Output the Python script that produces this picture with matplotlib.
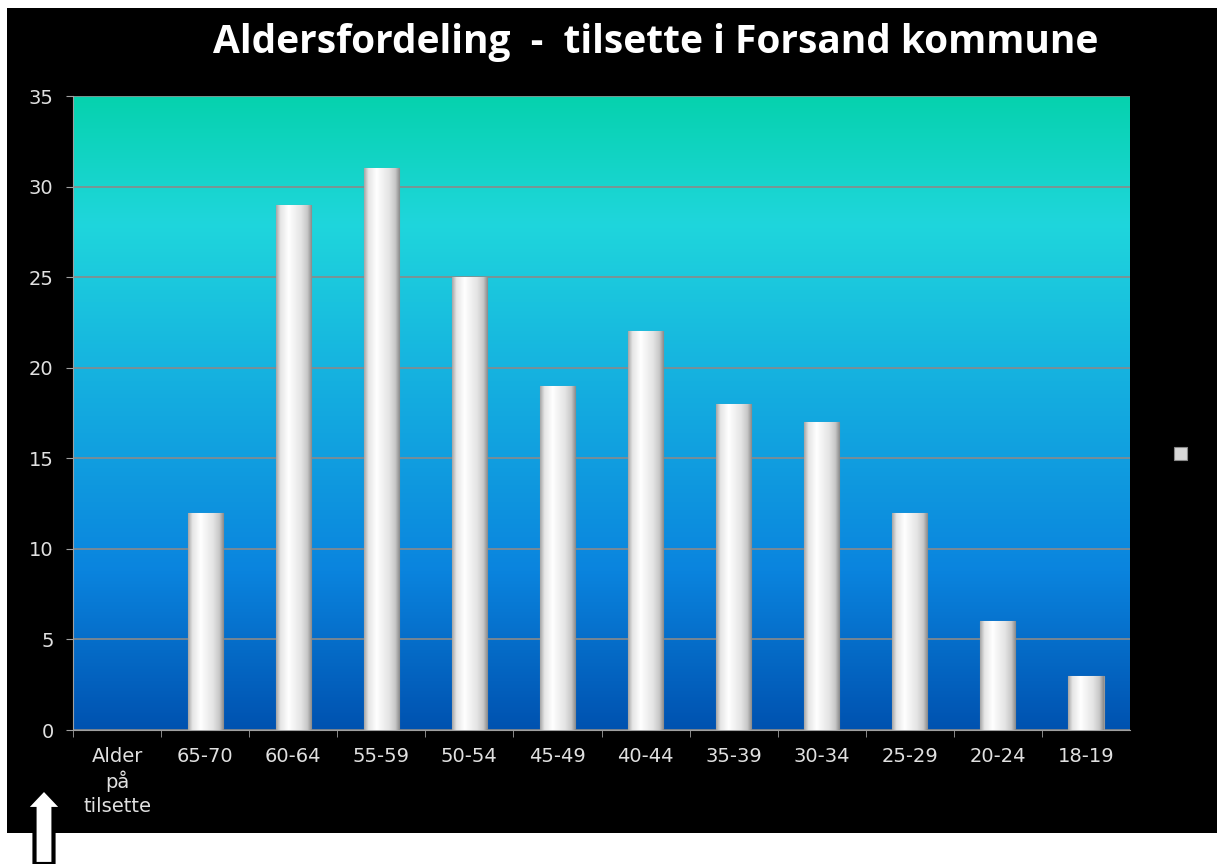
import numpy as np
import matplotlib.pyplot as plt
from matplotlib.colors import LinearSegmentedColormap
from matplotlib.patches import Rectangle, FancyArrow

# data
kategorier = ['Alder\npå\ntilsette', '65-70', '60-64', '55-59', '50-54', '45-49',
              '40-44', '35-39', '30-34', '25-29', '20-24', '18-19']
antall = [0, 12, 29, 31, 25, 19, 22, 18, 17, 12, 6, 3]

W, H = 1217, 864
fig = plt.figure(figsize=(W / 100, H / 100), dpi=100, facecolor='white')

# svart bakgrunn
fig.patches.append(Rectangle((7 / W, 1 - 833 / H), (W - 7) / W, (833 - 8) / H,
                             transform=fig.transFigure, facecolor='black',
                             edgecolor='none', zorder=-10))

ax = fig.add_axes([73 / W, 1 - 730 / H, (1130 - 73) / W, (730 - 96) / H])
ax.set_facecolor('black')

# gradient bakgrunn i plottet
bg = LinearSegmentedColormap.from_list('bg', [
    (0.0, '#0052b0'), (0.25, '#0a84de'), (0.55, '#15b0e0'),
    (0.80, '#1fd6dc'), (1.0, '#06d2ae')])
grad = np.linspace(0, 1, 256).reshape(-1, 1)
ax.imshow(grad, cmap=bg, origin='lower', aspect='auto',
          extent=(-0.5, len(kategorier) - 0.5, 0, 35), zorder=0)

x = np.arange(len(kategorier))
bars = ax.bar(x, antall, width=0.4, color='#e0e0e0', edgecolor='#9a9a9a',
              linewidth=0.8, zorder=3)

# hvit/grå gradient på søylene
barcm = LinearSegmentedColormap.from_list('bar', [
    (0.0, '#a8a8a8'), (0.12, '#e6e6e6'), (0.35, '#ffffff'),
    (0.7, '#e4e4e4'), (0.88, '#c8c8c8'), (1.0, '#8c8c8c')])
hgrad = np.linspace(0, 1, 64).reshape(1, -1)
for b in bars:
    if b.get_height() <= 0:
        continue
    im = ax.imshow(hgrad, cmap=barcm, aspect='auto',
                   extent=(b.get_x(), b.get_x() + b.get_width(), 0, b.get_height()),
                   zorder=4)
    im.set_clip_path(b)

ax.set_xlim(-0.5, len(kategorier) - 0.5)
ax.set_ylim(0, 35)
ax.set_yticks(range(0, 36, 5))
ax.yaxis.grid(True, color='#8a8a8a', linewidth=1.2, zorder=1)
ax.set_axisbelow(True)
ax.set_xticks(x - 0.5, minor=True)
ax.set_xticks(x)
ax.set_xticklabels(kategorier, fontsize=14, color='#e0e0e0', linespacing=1.3,
                   va='top', family='DejaVu Sans')
ax.tick_params(axis='x', which='major', length=0, pad=12)
ax.tick_params(axis='x', which='minor', length=5, color='#a0a0a0')
ax.tick_params(axis='y', length=5, color='#a0a0a0', labelcolor='#e0e0e0',
               labelsize=14, pad=9)
for s in ['top', 'right']:
    ax.spines[s].set_visible(False)
for s in ['left', 'bottom']:
    ax.spines[s].set_color('#a0a0a0')

fig.text(656 / W, 1 - 42 / H, 'Aldersfordeling  -  tilsette i Forsand kommune',
         ha='center', va='center', fontsize=28, fontweight='bold',
         color='white', family='Open Sans')

# legende-markør uten tekst
fig.patches.append(Rectangle((1174 / W, 1 - 460 / H), 13 / W, 13 / H,
                             transform=fig.transFigure, facecolor='#d8d8d8',
                             edgecolor='#888888', linewidth=0.8, zorder=5))

# pil nederst til venstre
fig.patches.append(FancyArrow(44 / W, 0, 0, (H - 789) / H, width=19 / W,
                              head_width=38 / W, head_length=20 / H,
                              length_includes_head=True, transform=fig.transFigure,
                              facecolor='white', edgecolor='black',
                              linewidth=3, zorder=6))

fig.savefig('out.png', dpi=100, facecolor='white')
